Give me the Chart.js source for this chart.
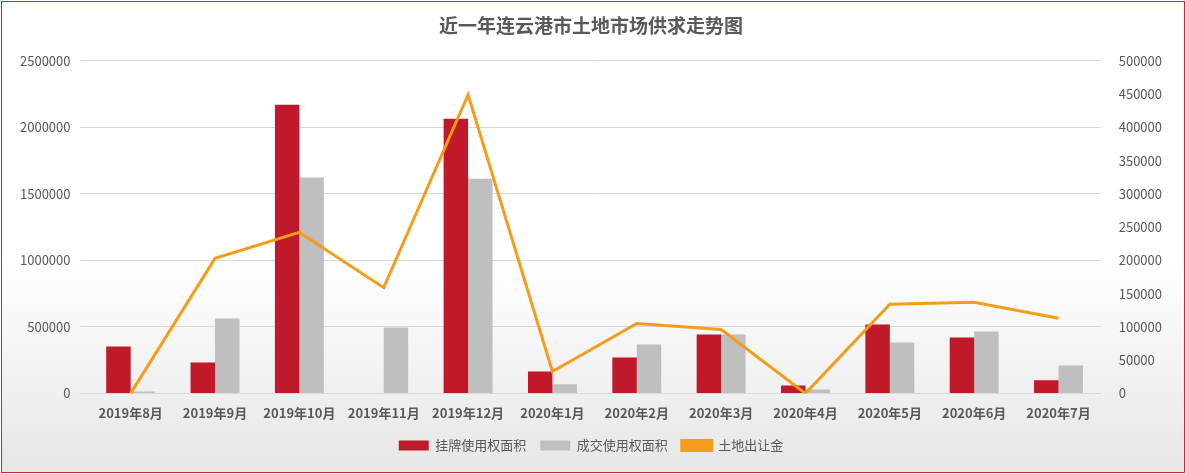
<!DOCTYPE html>
<html><head><meta charset="utf-8">
<script src="https://cdn.jsdelivr.net/npm/chart.js@4"></script>
<style>
html,body{margin:0;padding:0;}
#wrap{position:absolute;left:1px;top:1px;width:1182px;height:470px;border:1px solid #c0282d;background:linear-gradient(#ffffff 0%,#ffffff 55%,#e6e6e6 100%);}
</style></head>
<body><div id="wrap"><canvas id="c"></canvas></div>
<script>
const months = ['2019年8月','2019年9月','2019年10月','2019年11月','2019年12月','2020年1月','2020年2月','2020年3月','2020年4月','2020年5月','2020年6月','2020年7月'];
const listedArea = [353000,233000,2170000,0,2065000,165000,270000,443000,60000,518000,420000,98000];
const dealArea = [15000,563000,1622000,495000,1614000,68000,368000,443000,30000,383000,465000,210000];
const landRevenue = [0,203000,242000,159000,449000,33000,105000,96000,0,134000,137000,113000];

Chart.defaults.font.family = "'Noto Sans CJK SC', sans-serif";
Chart.defaults.color = '#595959';
const plain = v => String(v);
new Chart(document.getElementById('c'), {
  data: {
    labels: months,
    datasets: [
      {type:'bar', label:'挂牌使用权面积', data:listedArea, backgroundColor:'#c0192a', yAxisID:'y', order:2, categoryPercentage:0.58, barPercentage:1},
      {type:'bar', label:'成交使用权面积', data:dealArea, backgroundColor:'#bfbfbf', yAxisID:'y', order:2, categoryPercentage:0.58, barPercentage:1},
      {type:'line', label:'土地出让金', data:landRevenue, borderColor:'#f59c1a', backgroundColor:'#f59c1a', borderWidth:3, pointRadius:0, tension:0, yAxisID:'y1', order:1}
    ]
  },
  options: {
    responsive:true, maintainAspectRatio:false, animation:false,
    layout:{padding:{left:8,right:12,top:4,bottom:10}},
    plugins:{
      title:{display:true, text:'近一年连云港市土地市场供求走势图', font:{size:19,weight:'bold'}, color:'#595959', padding:{top:8,bottom:24}},
      legend:{position:'bottom', labels:{boxWidth:30, boxHeight:10, font:{size:13}, padding:14, sort:(a,b)=>a.datasetIndex-b.datasetIndex}}
    },
    scales:{
      x:{grid:{display:false}, border:{color:'#d9d9d9'}, ticks:{font:{size:13,weight:'bold'}, padding:4}},
      y:{min:0, max:2500000, ticks:{stepSize:500000, font:{size:13}, callback:plain, padding:10}, grid:{color:'#d9d9d9'}, border:{display:false}},
      y1:{position:'right', min:0, max:500000, ticks:{stepSize:50000, font:{size:13}, callback:plain, padding:10}, grid:{display:false}, border:{display:false}}
    }
  }
});
</script></body></html>
